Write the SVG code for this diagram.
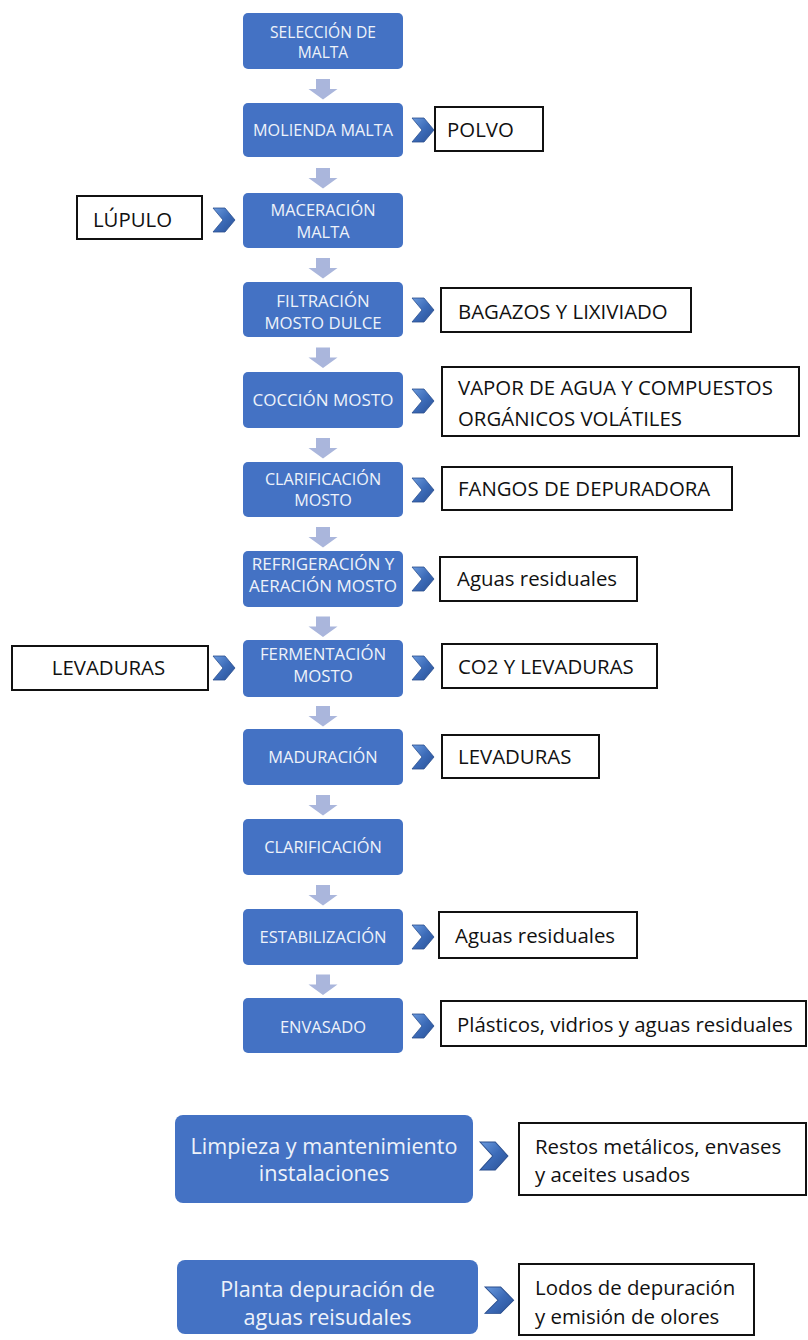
<svg xmlns="http://www.w3.org/2000/svg" xmlns:xlink="http://www.w3.org/1999/xlink" width="808" height="1340" viewBox="0 0 808 1340">
<defs>
<style>
.step{fill:#4472c4}
.st{fill:#eef2fa;font-family:"Open Sans","Noto Sans",sans-serif;text-anchor:middle}
.out{fill:#ffffff;stroke:#111111;stroke-width:2}
.ot{fill:#111111;font-family:"Open Sans","Noto Sans",sans-serif;font-size:20.4px}
.down{fill:#aab6dc}
.chev{fill:url(#cg);stroke:#2b4f8e;stroke-width:0.8}
</style>
<linearGradient id="cg" x1="0" y1="0" x2="1" y2="1">
<stop offset="0" stop-color="#6a9ade"/>
<stop offset="0.5" stop-color="#3c6bb8"/>
<stop offset="1" stop-color="#2a5196"/>
</linearGradient>
<path id="darr" d="M-7,-9 L7,-9 L7,1 L14.5,1 L0,11.5 L-14.5,1 L-7,1 Z"/>
<path id="chv" d="M0,0 L12,0 L22,12 L12,24 L0,24 L10,12 Z"/>
</defs>
<rect width="808" height="1340" fill="#ffffff"/>

<g id="connectors">
<use href="#darr" class="down" transform="translate(323,88)"/>
<use href="#darr" class="down" transform="translate(323,177)"/>
<use href="#darr" class="down" transform="translate(323,267)"/>
<use href="#darr" class="down" transform="translate(323,356.5)"/>
<use href="#darr" class="down" transform="translate(323,447)"/>
<use href="#darr" class="down" transform="translate(323,536)"/>
<use href="#darr" class="down" transform="translate(323,625.5)"/>
<use href="#darr" class="down" transform="translate(323,715)"/>
<use href="#darr" class="down" transform="translate(323,804)"/>
<use href="#darr" class="down" transform="translate(323,894)"/>
<use href="#darr" class="down" transform="translate(323,983.5)"/>

<use href="#chv" class="chev" transform="translate(412,118)"/>
<use href="#chv" class="chev" transform="translate(213,208)"/>
<use href="#chv" class="chev" transform="translate(412,298)"/>
<use href="#chv" class="chev" transform="translate(412,389)"/>
<use href="#chv" class="chev" transform="translate(412,478)"/>
<use href="#chv" class="chev" transform="translate(412,567)"/>
<use href="#chv" class="chev" transform="translate(213,656)"/>
<use href="#chv" class="chev" transform="translate(412,656)"/>
<use href="#chv" class="chev" transform="translate(412,745)"/>
<use href="#chv" class="chev" transform="translate(412,925)"/>
<use href="#chv" class="chev" transform="translate(412,1014)"/>
<use href="#chv" class="chev" transform="translate(480,1142) scale(1.27,1.17)"/>
<use href="#chv" class="chev" transform="translate(485,1287) scale(1.3,1.1)"/>
</g>

<g id="n1"><rect class="step" x="243" y="13" width="160" height="56" rx="5"/>
<text class="st" font-size="15.6" x="323" y="37.5">SELECCIÓN DE</text>
<text class="st" font-size="15.6" x="323" y="58">MALTA</text></g>

<g id="n2"><rect class="step" x="243" y="103" width="160" height="54" rx="5"/>
<text class="st" font-size="16.2" x="323" y="136">MOLIENDA MALTA</text></g>

<g id="n3"><rect class="step" x="243" y="193" width="160" height="55" rx="5"/>
<text class="st" font-size="16.4" x="323" y="216">MACERACIÓN</text>
<text class="st" font-size="16.4" x="323" y="237.5">MALTA</text></g>

<g id="n4"><rect class="step" x="243" y="282" width="160" height="55" rx="5"/>
<text class="st" font-size="16.8" x="323" y="306.6">FILTRACIÓN</text>
<text class="st" font-size="16.8" x="323" y="328.6">MOSTO DULCE</text></g>

<g id="n5"><rect class="step" x="243" y="372" width="160" height="56" rx="5"/>
<text class="st" font-size="17" x="323" y="406">COCCIÓN MOSTO</text></g>

<g id="n6"><rect class="step" x="243" y="462" width="160" height="55" rx="5"/>
<text class="st" font-size="16.2" x="323" y="484.5">CLARIFICACIÓN</text>
<text class="st" font-size="16.2" x="323" y="506">MOSTO</text></g>

<g id="n7"><rect class="step" x="243" y="551" width="160" height="56" rx="5"/>
<text class="st" font-size="17" x="323" y="570">REFRIGERACIÓN Y</text>
<text class="st" font-size="17" x="323" y="592">AERACIÓN MOSTO</text></g>

<g id="n8"><rect class="step" x="243" y="640" width="160" height="57" rx="5"/>
<text class="st" font-size="16.8" x="323" y="660">FERMENTACIÓN</text>
<text class="st" font-size="16.8" x="323" y="682">MOSTO</text></g>

<g id="n9"><rect class="step" x="243" y="729" width="160" height="56" rx="5"/>
<text class="st" font-size="16.4" x="323" y="763">MADURACIÓN</text></g>

<g id="n10"><rect class="step" x="243" y="819" width="160" height="56" rx="5"/>
<text class="st" font-size="16.4" x="323" y="853">CLARIFICACIÓN</text></g>

<g id="n11"><rect class="step" x="243" y="909" width="160" height="56" rx="5"/>
<text class="st" font-size="16.6" x="323" y="942.7">ESTABILIZACIÓN</text></g>

<g id="n12"><rect class="step" x="243" y="998" width="160" height="55" rx="5"/>
<text class="st" font-size="16.5" x="323" y="1033">ENVASADO</text></g>

<g id="n13"><rect class="step" x="175" y="1115" width="298" height="88" rx="8"/>
<text class="st" font-size="21.6" x="324" y="1153.5">Limpieza y mantenimiento</text>
<text class="st" font-size="21.6" x="324" y="1181">instalaciones</text></g>

<g id="n14"><rect class="step" x="177" y="1260" width="301" height="74" rx="8"/>
<text class="st" font-size="21.6" x="327.5" y="1297">Planta depuración de</text>
<text class="st" font-size="21.6" x="327.5" y="1324.5">aguas reisudales</text></g>

<g id="o-polvo"><rect class="out" x="435" y="107" width="108" height="44"/>
<text class="ot" x="447" y="137">POLVO</text></g>

<g id="i-lupulo"><rect class="out" x="77" y="196" width="125" height="43"/>
<text class="ot" x="132.5" y="227" text-anchor="middle">LÚPULO</text></g>

<g id="o-bagazos"><rect class="out" x="441" y="288" width="250" height="44"/>
<text class="ot" x="458" y="319">BAGAZOS Y LIXIVIADO</text></g>

<g id="o-vapor"><rect class="out" x="442" y="367" width="357" height="69"/>
<text class="ot" x="458" y="395">VAPOR DE AGUA Y COMPUESTOS</text>
<text class="ot" x="458" y="426">ORGÁNICOS VOLÁTILES</text></g>

<g id="o-fangos"><rect class="out" x="442" y="467" width="290" height="43"/>
<text class="ot" x="458" y="496">FANGOS DE DEPURADORA</text></g>

<g id="o-aguas1"><rect class="out" x="440" y="557" width="197" height="44"/>
<text class="ot" x="457" y="586">Aguas residuales</text></g>

<g id="i-levaduras"><rect class="out" x="12" y="646" width="196" height="44"/>
<text class="ot" x="108.5" y="675" text-anchor="middle">LEVADURAS</text></g>

<g id="o-co2"><rect class="out" x="442" y="644" width="215" height="44"/>
<text class="ot" x="458" y="673.5">CO2 Y LEVADURAS</text></g>

<g id="o-levaduras"><rect class="out" x="442" y="735" width="157" height="43"/>
<text class="ot" x="458" y="764">LEVADURAS</text></g>

<g id="o-aguas2"><rect class="out" x="439" y="912" width="198" height="46"/>
<text class="ot" x="455" y="943">Aguas residuales</text></g>

<g id="o-plasticos"><rect class="out" x="441" y="1001" width="365" height="45"/>
<text class="ot" x="457" y="1031.5">Plásticos, vidrios y aguas residuales</text></g>

<g id="o-restos"><rect class="out" x="519" y="1123" width="287" height="72"/>
<text class="ot" x="535" y="1153.5">Restos metálicos, envases</text>
<text class="ot" x="535" y="1181.5">y aceites usados</text></g>

<g id="o-lodos"><rect class="out" x="519" y="1264" width="235" height="71"/>
<text class="ot" x="535" y="1294.5">Lodos de depuración</text>
<text class="ot" x="535" y="1323.5">y emisión de olores</text></g>
</svg>
